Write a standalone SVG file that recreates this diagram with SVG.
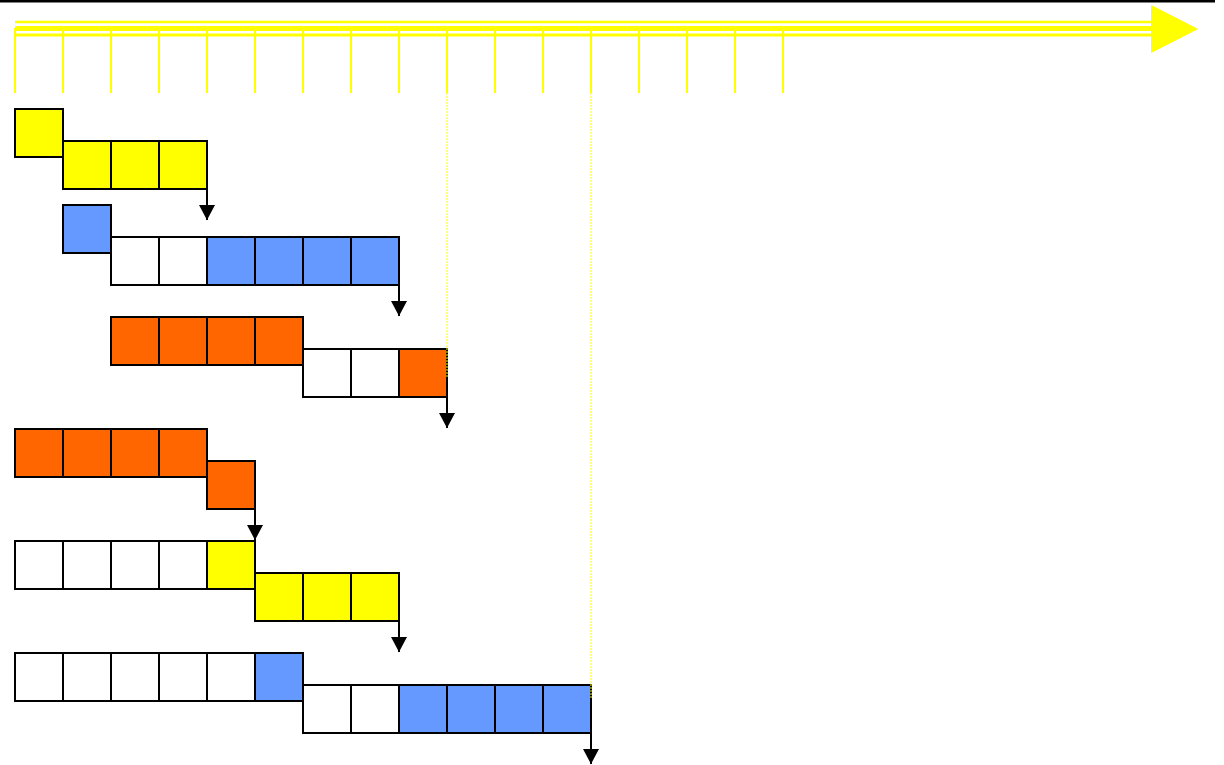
<svg xmlns="http://www.w3.org/2000/svg" width="1224" height="765" viewBox="0 0 1224 765">
<defs>
<style>
.c{stroke:#000;stroke-width:2}
.y{fill:#FFFF00}.b{fill:#6699FF}.o{fill:#FF6600}.w{fill:#FFFFFF}
.tick{stroke:#FFFF00;stroke-width:2}
.dot{stroke:#FFFF00;stroke-width:1;stroke-dasharray:2 1}
.conn{stroke:#000;stroke-width:2;fill:none}
</style>
<marker id="ah" markerWidth="15" markerHeight="16" refX="15" refY="8" orient="auto" markerUnits="userSpaceOnUse" viewBox="0 0 15 16">
<path d="M0,0 L15,8 L0,16 Z" fill="#000"/>
</marker>
</defs>
<rect width="1224" height="765" fill="#fff"/>
<rect x="0" y="0" width="1215" height="2.5" fill="#000"/>
<g id="timeline">
<line x1="15" y1="22" x2="1152" y2="22" stroke="#FFFF00" stroke-width="2.5"/>
<line x1="15" y1="28.5" x2="1152" y2="28.5" stroke="#FFFF00" stroke-width="5"/>
<line x1="15" y1="35" x2="1152" y2="35" stroke="#FFFF00" stroke-width="3"/>
<polygon points="1151,5 1198,29 1151,53" fill="#FFFF00"/>
<g class="tick">
<line x1="15" y1="28" x2="15" y2="93"/><line x1="63" y1="28" x2="63" y2="93"/><line x1="111" y1="28" x2="111" y2="93"/><line x1="159" y1="28" x2="159" y2="93"/><line x1="207" y1="28" x2="207" y2="93"/><line x1="255" y1="28" x2="255" y2="93"/><line x1="303" y1="28" x2="303" y2="93"/><line x1="351" y1="28" x2="351" y2="93"/><line x1="399" y1="28" x2="399" y2="93"/><line x1="447" y1="28" x2="447" y2="93"/><line x1="495" y1="28" x2="495" y2="93"/><line x1="543" y1="28" x2="543" y2="93"/><line x1="591" y1="28" x2="591" y2="93"/><line x1="639" y1="28" x2="639" y2="93"/><line x1="687" y1="28" x2="687" y2="93"/><line x1="735" y1="28" x2="735" y2="93"/><line x1="783" y1="28" x2="783" y2="93"/>
</g>
</g>
<g id="row1">
<rect class="c y" x="15" y="109" width="48" height="48"/>
<rect class="c y" x="63" y="141" width="48" height="48"/><rect class="c y" x="111" y="141" width="48" height="48"/><rect class="c y" x="159" y="141" width="48" height="48"/>
</g>
<g id="row2">
<rect class="c b" x="63" y="205" width="48" height="48"/>
<rect class="c w" x="111" y="237" width="48" height="48"/><rect class="c w" x="159" y="237" width="48" height="48"/>
<rect class="c b" x="207" y="237" width="48" height="48"/><rect class="c b" x="255" y="237" width="48" height="48"/><rect class="c b" x="303" y="237" width="48" height="48"/><rect class="c b" x="351" y="237" width="48" height="48"/>
</g>
<g id="row3">
<rect class="c o" x="111" y="317" width="48" height="48"/><rect class="c o" x="159" y="317" width="48" height="48"/><rect class="c o" x="207" y="317" width="48" height="48"/><rect class="c o" x="255" y="317" width="48" height="48"/>
<rect class="c w" x="303" y="349" width="48" height="48"/><rect class="c w" x="351" y="349" width="48" height="48"/>
<rect class="c o" x="399" y="349" width="48" height="48"/>
</g>
<g id="row4">
<rect class="c o" x="15" y="429" width="48" height="48"/><rect class="c o" x="63" y="429" width="48" height="48"/><rect class="c o" x="111" y="429" width="48" height="48"/><rect class="c o" x="159" y="429" width="48" height="48"/>
<rect class="c o" x="207" y="461" width="48" height="48"/>
</g>
<g id="row5">
<rect class="c w" x="15" y="541" width="48" height="48"/><rect class="c w" x="63" y="541" width="48" height="48"/><rect class="c w" x="111" y="541" width="48" height="48"/><rect class="c w" x="159" y="541" width="48" height="48"/>
<rect class="c y" x="207" y="541" width="48" height="48"/>
<rect class="c y" x="255" y="573" width="48" height="48"/><rect class="c y" x="303" y="573" width="48" height="48"/><rect class="c y" x="351" y="573" width="48" height="48"/>
</g>
<g id="row6">
<rect class="c w" x="15" y="653" width="48" height="48"/><rect class="c w" x="63" y="653" width="48" height="48"/><rect class="c w" x="111" y="653" width="48" height="48"/><rect class="c w" x="159" y="653" width="48" height="48"/><rect class="c w" x="207" y="653" width="48" height="48"/>
<rect class="c b" x="255" y="653" width="48" height="48"/>
<rect class="c w" x="303" y="685" width="48" height="48"/><rect class="c w" x="351" y="685" width="48" height="48"/>
<rect class="c b" x="399" y="685" width="48" height="48"/><rect class="c b" x="447" y="685" width="48" height="48"/><rect class="c b" x="495" y="685" width="48" height="48"/><rect class="c b" x="543" y="685" width="48" height="48"/>
</g>
<g id="guides">
<line class="dot" x1="447" y1="93" x2="447" y2="378"/>
<line class="dot" x1="591" y1="93" x2="591" y2="698"/>
</g>
<g id="connectors">
<line class="conn" x1="207" y1="189" x2="207" y2="220" marker-end="url(#ah)"/>
<line class="conn" x1="399" y1="285" x2="399" y2="316" marker-end="url(#ah)"/>
<line class="conn" x1="447" y1="397" x2="447" y2="428" marker-end="url(#ah)"/>
<line class="conn" x1="255" y1="509" x2="255" y2="540" marker-end="url(#ah)"/>
<line class="conn" x1="399" y1="621" x2="399" y2="652" marker-end="url(#ah)"/>
<line class="conn" x1="591" y1="733" x2="591" y2="764" marker-end="url(#ah)"/>
</g>
</svg>
